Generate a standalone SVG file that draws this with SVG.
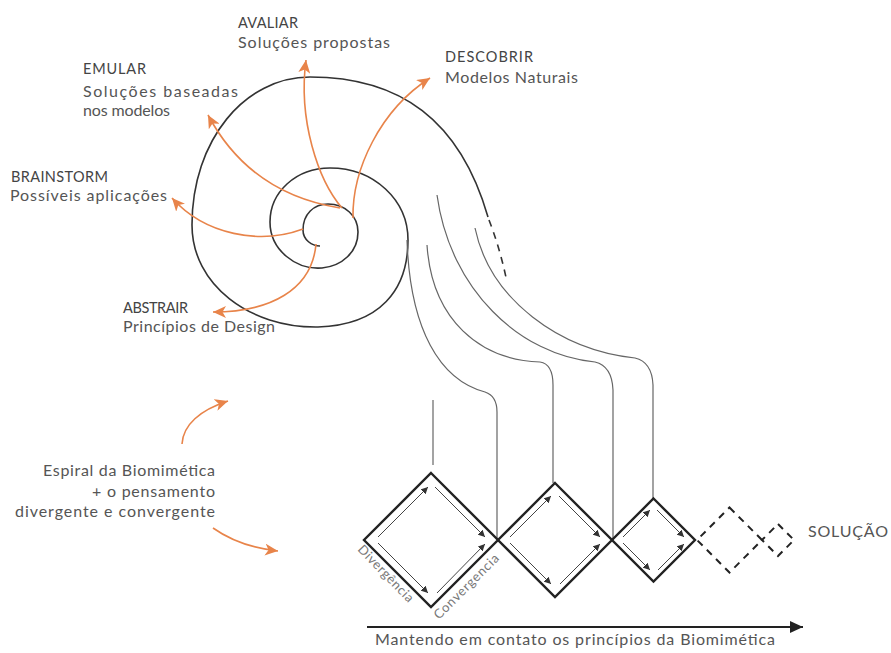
<svg xmlns="http://www.w3.org/2000/svg" width="891" height="653" viewBox="0 0 891 653">
<defs>
<style>
.t{font-family:Lato,"Open Sans","Liberation Sans",sans-serif;fill:#555;font-size:16px}
.h{fill:#444;font-size:14.5px}
.s{fill:#777;font-size:13px}
.or{fill:none;stroke:#E8844A;stroke-width:1.6}
.sp{fill:none;stroke:#333;stroke-width:1.6}
.tl{fill:none;stroke:#666;stroke-width:1.2}
.dm{fill:none;stroke:#222;stroke-width:2.4;stroke-linejoin:miter}
.dd{fill:none;stroke:#222;stroke-width:2;stroke-dasharray:7,6}
.ia{fill:none;stroke:#444;stroke-width:1;marker-end:url(#sa)}
</style>
<marker id="oa" markerUnits="userSpaceOnUse" markerWidth="14" markerHeight="12" refX="13" refY="6" orient="auto"><path d="M0,0 L13,6 L0,12 L3.5,6 z" fill="#E8844A"/></marker>
<marker id="sa" markerUnits="userSpaceOnUse" markerWidth="8" markerHeight="7" refX="7" refY="3.5" orient="auto"><path d="M0,0 L7,3.5 L0,7 z" fill="#333"/></marker>
<marker id="ba" markerUnits="userSpaceOnUse" markerWidth="14" markerHeight="12" refX="13" refY="6" orient="auto"><path d="M0,0 L13,6 L0,12 z" fill="#222"/></marker>
</defs>
<rect width="891" height="653" fill="#fff"/>

<g id="connectors">
<path class="sp" d="M320,246 C312,246 303,240 303,230 C303,214 314,204 328,204 C345,204 358,216 358,232 C358,252 342,266 322,268 C296,270 270,250 270,222 C270,192 296,168 330,168 C374,168 408,200 408,240 C408,290 380,325 318,327 C250,328 192,285 192,225 C192,140 245,77 310,77 C400,77 460,120 488,217"/>
<path fill="none" stroke="#333" stroke-width="1.6" stroke-dasharray="7,6" d="M489,220 C496,238 502,258 507,282"/>
<path class="tl" d="M407,240 C410,330 440,380 485,392 Q497,396 497,412 L497,540"/>
<path class="tl" d="M427,245 C432,320 480,360 540,362 Q553,364 553,385 L553,483"/>
<path class="tl" d="M437,195 C450,290 520,355 595,362 Q612,366 613,390 L613,540"/>
<path class="tl" d="M475,228 C490,300 560,350 635,358 Q652,362 653,385 L653,498"/>
<path class="tl" d="M433,400 L433,465"/>
<path class="or" marker-end="url(#oa)" d="M353,218 C352,170 380,110 430,78"/>
<path class="or" marker-end="url(#oa)" d="M342,208 C318,180 298,120 306,60"/>
<path class="or" marker-end="url(#oa)" d="M340,208 C290,200 240,175 208,115"/>
<path class="or" marker-end="url(#oa)" d="M303,229 C260,245 205,235 172,198"/>
<path class="or" marker-end="url(#oa)" d="M316,244 C312,290 270,312 213,312"/>
<path class="or" marker-end="url(#oa)" d="M182,444 C183,425 200,410 228,401"/>
<path class="or" marker-end="url(#oa)" d="M213,528 C230,540 250,548 278,551"/>
<path fill="none" stroke="#222" stroke-width="2" marker-end="url(#ba)" d="M367,627 L803,627"/>
</g>

<g id="d1">
<path class="dm" d="M431,473 L498,540 L431,607 L364,540 Z"/>
<path class="ia" d="M378,537 L428,487"/><path class="ia" d="M435,487 L485,537"/>
<path class="ia" d="M378,543 L428,593"/><path class="ia" d="M437,593 L485,544"/>
</g>
<g id="d2">
<path class="dm" d="M555,483 L612,540 L555,597 L498,540 Z"/>
<path class="ia" d="M510,537 L551,496"/><path class="ia" d="M559,496 L600,537"/>
<path class="ia" d="M510,543 L551,584"/><path class="ia" d="M560,584 L600,544"/>
</g>
<g id="d3">
<path class="dm" d="M653.5,498.5 L695,540 L653.5,581.5 L612,540 Z"/>
<path class="ia" d="M623,537 L650,510"/><path class="ia" d="M657,510 L684,537"/>
<path class="ia" d="M623,543 L650,570"/><path class="ia" d="M658,570 L684,544"/>
</g>
<g id="d4"><path class="dd" d="M729.5,507.5 L762,540 L729.5,572.5 L697,540 Z"/></g>
<g id="d5"><path class="dd" stroke-dasharray="5,5" d="M778,524 L794,540 L778,556 L762,540 Z"/></g>

<g id="avaliar"><text class="t h" x="238" y="28" textLength="60">AVALIAR</text><text class="t" x="238" y="48" textLength="152">Soluções propostas</text></g>
<g id="descobrir"><text class="t h" x="445" y="62" textLength="88">DESCOBRIR</text><text class="t" x="445" y="83" textLength="133">Modelos Naturais</text></g>
<g id="emular"><text class="t h" x="83" y="74" textLength="63">EMULAR</text><text class="t" x="83" y="97" textLength="155">Soluções baseadas</text><text class="t" x="83" y="116" textLength="87">nos modelos</text></g>
<g id="brainstorm"><text class="t h" x="11" y="182" textLength="97">BRAINSTORM</text><text class="t" x="10" y="201" textLength="157">Possíveis aplicações</text></g>
<g id="abstrair"><text class="t h" x="123" y="313" textLength="65">ABSTRAIR</text><text class="t" x="123" y="332" textLength="152">Princípios de Design</text></g>
<g id="legend"><text class="t" x="43" y="476" textLength="172">Espiral da Biomimética</text><text class="t" x="92" y="497" textLength="123">+ o pensamento</text><text class="t" x="15" y="517" textLength="200">divergente e convergente</text></g>
<g id="solucao"><text class="t" x="808" y="537" textLength="80">SOLUÇÃO</text></g>
<text class="t s" transform="translate(357,550) rotate(46)" textLength="74">Divergência</text>
<text class="t s" transform="translate(439,620) rotate(-45)" textLength="86">Convergencia</text>
<text class="t" x="375" y="645" textLength="400">Mantendo em contato os princípios da Biomimética</text>
</svg>
